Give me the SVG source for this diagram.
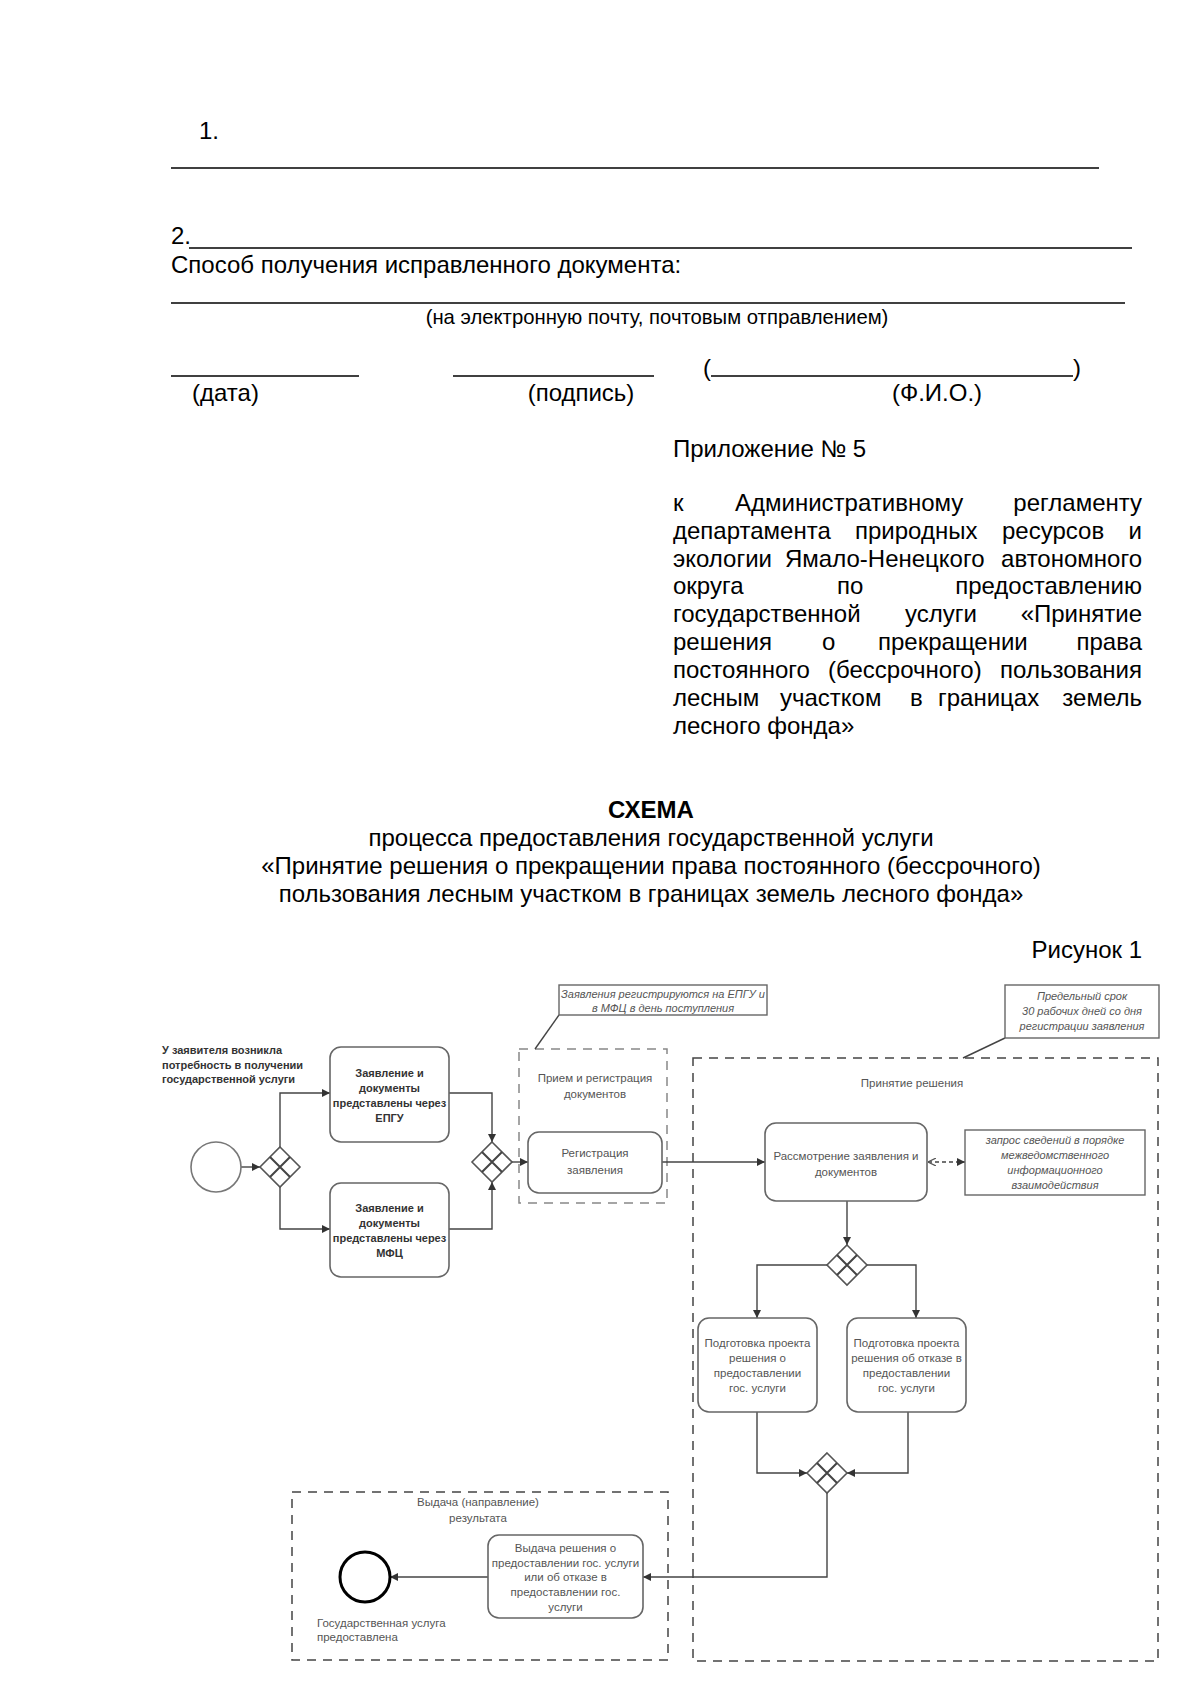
<svg xmlns="http://www.w3.org/2000/svg" width="1200" height="1696" viewBox="0 0 1200 1696">
<style>
.t{font-family:"Liberation Sans",Arial,sans-serif;font-size:24px;fill:#000}
.s{font-family:"Liberation Sans",Arial,sans-serif;font-size:11.5px;fill:#555}
.b{font-family:"Liberation Sans",Arial,sans-serif;font-size:11px;font-weight:bold;fill:#333}
.i{font-family:"Liberation Sans",Arial,sans-serif;font-size:11px;font-style:italic;fill:#555}
.c{text-anchor:middle}
.e{text-anchor:end}
.task{fill:#fff;stroke:#666;stroke-width:1.6}
.grp{fill:none;stroke-width:1.5;stroke-dasharray:9 7}
.ann{fill:#fff;stroke:#666;stroke-width:1.4}
.ln{fill:none;stroke:#444;stroke-width:1.4}
.rule{stroke:#000;stroke-width:1.6}
</style>
<defs>
<marker id="ar" viewBox="0 0 8 8" refX="8" refY="4" markerWidth="8" markerHeight="8" markerUnits="userSpaceOnUse" orient="auto"><path d="M0,0 L8,4 L0,8 z" fill="#333"/></marker>
<marker id="ar0" viewBox="0 0 8 8" refX="0" refY="4" markerWidth="8" markerHeight="8" markerUnits="userSpaceOnUse" orient="auto"><path d="M8,0 L0,4 L8,8" fill="none" stroke="#555" stroke-width="1.2"/></marker>
<g id="gw"><path d="M0,-20 L20,0 L0,20 L-20,0 Z" fill="#fff" stroke="#555" stroke-width="1.6"/><path d="M-10,-10 L10,10 M10,-10 L-10,10" stroke="#444" stroke-width="2"/></g>
</defs>
<rect width="1200" height="1696" fill="#fff"/>

<g id="header">
<text class="t" x="199" y="139">1.</text>
<line class="rule" x1="171" y1="168" x2="1099" y2="168"/>
<text class="t" x="171" y="244">2.</text>
<line class="rule" x1="189" y1="248" x2="1132" y2="248"/>
<text class="t" x="171" y="273">Способ получения исправленного документа:</text>
<line class="rule" x1="171" y1="303" x2="1125" y2="303"/>
<text class="t c" x="657" y="324" style="font-size:20.3px">(на электронную почту, почтовым отправлением)</text>
<line class="rule" x1="171" y1="376" x2="359" y2="376"/>
<line class="rule" x1="453" y1="376" x2="654" y2="376"/>
<text class="t" x="703" y="376">(</text>
<line class="rule" x1="711" y1="376" x2="1073" y2="376"/>
<text class="t" x="1073" y="376">)</text>
<text class="t" x="192" y="401">(дата)</text>
<text class="t c" x="581" y="401">(подпись)</text>
<text class="t c" x="937" y="401">(Ф.И.О.)</text>
</g>

<g id="appendix">
<text class="t" x="673" y="457">Приложение № 5</text>
<text class="t" y="511"><tspan x="673">к</tspan><tspan x="735">Административному</tspan></text><text class="t e" x="1142" y="511">регламенту</text>
<text class="t" y="539"><tspan x="673">департамента</tspan><tspan x="855">природных</tspan><tspan x="1002">ресурсов</tspan></text><text class="t e" x="1142" y="539">и</text>
<text class="t" y="567"><tspan x="673">экологии</tspan><tspan x="785">Ямало-Ненецкого</tspan></text><text class="t e" x="1142" y="567">автономного</text>
<text class="t" y="594"><tspan x="673">округа</tspan><tspan x="837">по</tspan></text><text class="t e" x="1142" y="594">предоставлению</text>
<text class="t" y="622"><tspan x="673">государственной</tspan><tspan x="905">услуги</tspan></text><text class="t e" x="1142" y="622">«Принятие</text>
<text class="t" y="650"><tspan x="673">решения</tspan><tspan x="822">о</tspan><tspan x="878">прекращении</tspan></text><text class="t e" x="1142" y="650">права</text>
<text class="t" y="678"><tspan x="673">постоянного</tspan><tspan x="828">(бессрочного)</tspan></text><text class="t e" x="1142" y="678">пользования</text>
<text class="t" y="706"><tspan x="673">лесным</tspan><tspan x="780">участком</tspan><tspan x="910">в</tspan><tspan x="938">границах</tspan></text><text class="t e" x="1142" y="706">земель</text>
<text class="t" x="673" y="734">лесного фонда»</text>
</g>

<g id="title">
<text class="t c" x="651" y="818" font-weight="bold">СХЕМА</text>
<text class="t c" x="651" y="846">процесса предоставления государственной услуги</text>
<text class="t c" x="651" y="874">«Принятие решения о прекращении права постоянного (бессрочного)</text>
<text class="t c" x="651" y="902">пользования лесным участком в границах земель лесного фонда»</text>
<text class="t e" x="1142" y="958">Рисунок 1</text>
</g>

<g id="groups">
<g id="grp-reg"><rect class="grp" x="519" y="1049" width="148" height="154" stroke="#888"/>
<text class="s c" x="595" y="1082">Прием и регистрация</text><text class="s c" x="595" y="1098">документов</text></g>
<g id="grp-decision"><rect class="grp" x="693" y="1058" width="465" height="603" stroke="#444"/>
<text class="s c" x="912" y="1087">Принятие решения</text></g>
<g id="grp-issue"><rect class="grp" x="292" y="1492" width="376" height="168" stroke="#444"/>
<text class="s c" x="478" y="1506">Выдача (направление)</text><text class="s c" x="478" y="1522">результата</text></g>
</g>

<g id="connectors">
<path class="ln" d="M241,1167 H260" marker-end="url(#ar)"/>
<path class="ln" d="M280,1147 V1093 H330" marker-end="url(#ar)"/>
<path class="ln" d="M280,1187 V1229 H330" marker-end="url(#ar)"/>
<path class="ln" d="M449,1093 H492 V1142" marker-end="url(#ar)"/>
<path class="ln" d="M449,1229 H492 V1182" marker-end="url(#ar)"/>
<path class="ln" d="M512,1162 H528" marker-end="url(#ar)"/>
<path class="ln" d="M662,1162 H765" marker-end="url(#ar)"/>
<path class="ln" d="M928,1162 H965" stroke-dasharray="4 3" marker-start="url(#ar0)" marker-end="url(#ar)"/>
<path class="ln" d="M847,1201 V1245" marker-end="url(#ar)"/>
<path class="ln" d="M827,1265 H757 V1318" marker-end="url(#ar)"/>
<path class="ln" d="M867,1265 H916 V1318" marker-end="url(#ar)"/>
<path class="ln" d="M757,1412 V1473 H807" marker-end="url(#ar)"/>
<path class="ln" d="M908,1412 V1473 H847" marker-end="url(#ar)"/>
<path class="ln" d="M827,1493 V1577 H643" marker-end="url(#ar)"/>
<path class="ln" d="M488,1577 H390" marker-end="url(#ar)"/>
<path class="ln" d="M559,1015 L535,1049"/>
<path class="ln" d="M1005,1038 L963,1058"/>
</g>

<g id="start">
<circle cx="216" cy="1167" r="25" fill="#fff" stroke="#777" stroke-width="1.6"/>
<text class="b" x="162" y="1054">У заявителя возникла</text>
<text class="b" x="162" y="1069">потребность в получении</text>
<text class="b" x="162" y="1083">государственной услуги</text>
</g>
<g id="gw1" transform="translate(280,1167)"><use href="#gw"/></g>
<g id="task-epgu"><rect class="task" x="330" y="1047" width="119" height="95" rx="11"/>
<text class="b c" x="389.5" y="1077">Заявление и</text><text class="b c" x="389.5" y="1092">документы</text><text class="b c" x="389.5" y="1107">представлены через</text><text class="b c" x="389.5" y="1122">ЕПГУ</text></g>
<g id="task-mfc"><rect class="task" x="330" y="1183" width="119" height="94" rx="11"/>
<text class="b c" x="389.5" y="1212">Заявление и</text><text class="b c" x="389.5" y="1227">документы</text><text class="b c" x="389.5" y="1242">представлены через</text><text class="b c" x="389.5" y="1257">МФЦ</text></g>
<g id="gw2" transform="translate(492,1162)"><use href="#gw"/></g>
<g id="task-reg"><rect class="task" x="528" y="1132" width="134" height="61" rx="11"/>
<text class="s c" x="595" y="1157">Регистрация</text><text class="s c" x="595" y="1174">заявления</text></g>
<g id="note-reg"><rect class="ann" x="559" y="985" width="208" height="30"/>
<text class="i c" x="663" y="998">Заявления регистрируются на ЕПГУ и</text><text class="i c" x="663" y="1012">в МФЦ в день поступления</text></g>
<g id="note-term"><rect class="ann" x="1005" y="985" width="154" height="53"/>
<text class="i c" x="1082" y="1000">Предельный срок</text><text class="i c" x="1082" y="1015">30 рабочих дней со дня</text><text class="i c" x="1082" y="1030">регистрации заявления</text></g>
<g id="task-review"><rect class="task" x="765" y="1123" width="162" height="78" rx="11"/>
<text class="s c" x="846" y="1160">Рассмотрение заявления и</text><text class="s c" x="846" y="1176">документов</text></g>
<g id="note-request"><rect class="ann" x="965" y="1130" width="180" height="65"/>
<text class="i c" x="1055" y="1144">запрос сведений в порядке</text><text class="i c" x="1055" y="1159">межведомственного</text><text class="i c" x="1055" y="1174">информационного</text><text class="i c" x="1055" y="1189">взаимодействия</text></g>
<g id="gw3" transform="translate(847,1265)"><use href="#gw"/></g>
<g id="task-a"><rect class="task" x="698" y="1318" width="119" height="94" rx="11"/>
<text class="s c" x="757.5" y="1347">Подготовка проекта</text><text class="s c" x="757.5" y="1362">решения о</text><text class="s c" x="757.5" y="1377">предоставлении</text><text class="s c" x="757.5" y="1392">гос. услуги</text></g>
<g id="task-b"><rect class="task" x="847" y="1318" width="119" height="94" rx="11"/>
<text class="s c" x="906.5" y="1347">Подготовка проекта</text><text class="s c" x="906.5" y="1362">решения об отказе в</text><text class="s c" x="906.5" y="1377">предоставлении</text><text class="s c" x="906.5" y="1392">гос. услуги</text></g>
<g id="gw4" transform="translate(827,1473)"><use href="#gw"/></g>
<g id="task-issue"><rect class="task" x="488" y="1535" width="155" height="83" rx="11"/>
<text class="s c" x="565.5" y="1552">Выдача решения о</text><text class="s c" x="565.5" y="1567">предоставлении гос. услуги</text><text class="s c" x="565.5" y="1581">или об отказе в</text><text class="s c" x="565.5" y="1596">предоставлении гос.</text><text class="s c" x="565.5" y="1611">услуги</text></g>
<g id="end">
<circle cx="365" cy="1577" r="25" fill="#fff" stroke="#000" stroke-width="3"/>
<text class="s" x="317" y="1627">Государственная услуга</text><text class="s" x="317" y="1641">предоставлена</text>
</g>
</svg>
